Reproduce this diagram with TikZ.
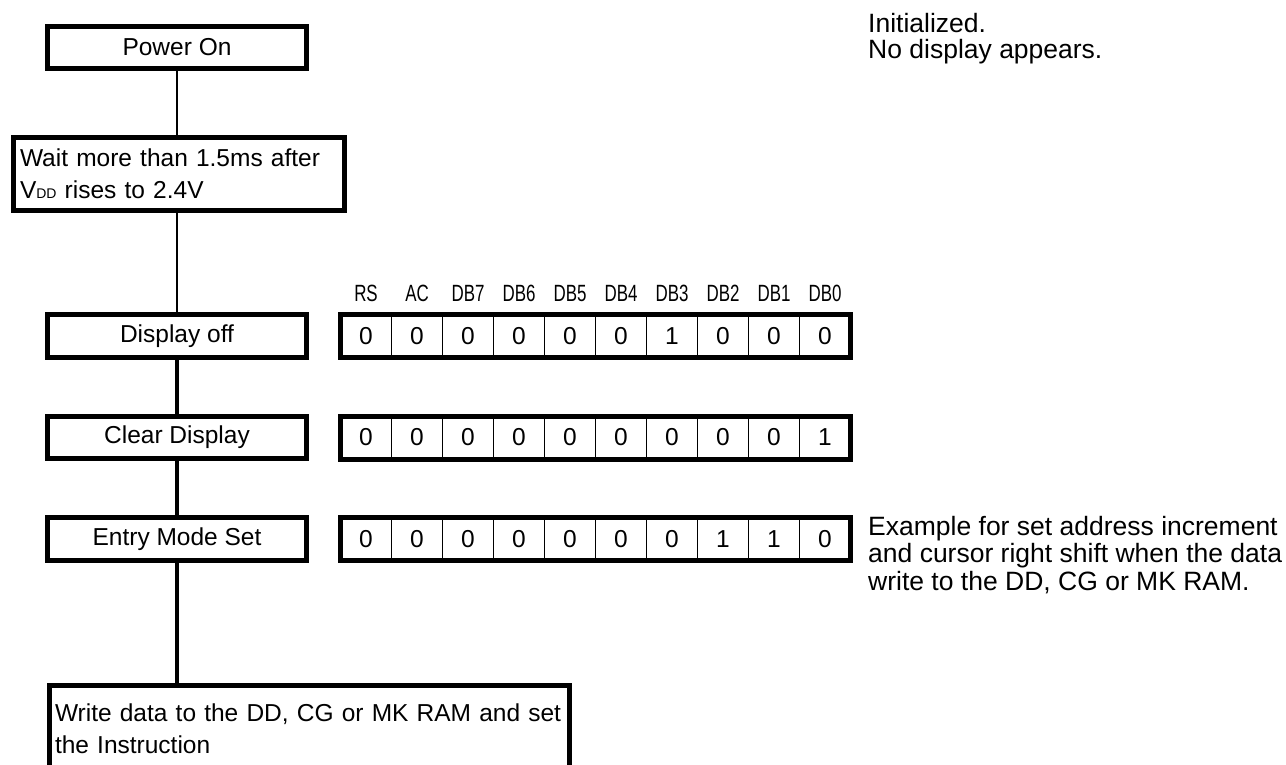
\documentclass[tikz,border=0pt]{standalone}
\usepackage{fontspec}
\setmainfont{Liberation Sans}
\newfontfamily\narrowfont[FakeStretch=0.72]{Liberation Sans}
\begin{document}
\begin{tikzpicture}[x=1pt,y=-1pt,
  box/.style={draw, line width=5pt, inner sep=0pt, font=\fontsize{24.5}{32}\selectfont},
  regbox/.style={draw, line width=5pt, minimum width=510pt, minimum height=43pt, inner sep=0pt},
  cell/.style={draw, line width=1.8pt, minimum width=51pt, minimum height=43pt, inner sep=0pt, font=\fontsize{24.5}{25}\selectfont},
  lab/.style={font=\narrowfont\fontsize{23.5}{24}\selectfont, inner sep=0pt, anchor=base},
  note/.style={font=\fontsize{26.5}{26.5}\selectfont, align=left, anchor=north west, inner sep=0pt},
  thin/.style={line width=1.5pt},
  thick/.style={line width=3.5pt}
]
\useasboundingbox (0,0) rectangle (1286,765);

% flow boxes
\node[box, minimum width=259pt, minimum height=42pt] (pwr) at (177,47.5) {Power On};
\node[box, minimum width=331pt, minimum height=73pt, text width=318pt, align=left, inner xsep=6.5pt] (wait) at (179,174)
  {Wait more than 1.5ms after\\V{\fontsize{14}{14}\selectfont DD} rises to 2.4V};
\node[box, minimum width=259pt, minimum height=43pt] (doff) at (177,336) {Display off};
\node[box, minimum width=259pt, minimum height=42pt] (clr) at (177,437.5) {Clear Display};
\node[box, minimum width=259pt, minimum height=43pt] (ems) at (177,539) {Entry Mode Set};
\node[box, minimum width=520pt, minimum height=87pt, text width=509pt, align=left, inner xsep=5.5pt] (wr) at (309.5,729)
  {Write data to the DD, CG or MK RAM and set\\the Instruction};

% connectors
\draw[thin] (pwr.south) -- (pwr.south |- wait.north);
\draw[thin] (pwr.south |- wait.south) -- (pwr.south |- doff.north);
\draw[thick] (doff) -- (clr);
\draw[thick] (clr) -- (ems);
\draw[thick] (ems.south) -- (ems.south |- wr.north);

% register labels
\foreach \t [count=\i] in {RS,AC,DB7,DB6,DB5,DB4,DB3,DB2,DB1,DB0} {
  \node[lab] (lab\i) at (340.5+51*\i-25.5,301.5) {\t};
}

% register rows
\foreach \row/\y/\bits in {1/336/{0,0,0,0,0,0,1,0,0,0}, 2/437.5/{0,0,0,0,0,0,0,0,0,1}, 3/539/{0,0,0,0,0,0,0,1,1,0}} {
  \foreach \b [count=\i] in \bits {
    \node[cell] (r\row c\i) at (340.5+51*\i-25.5,\y) {\b};
  }
  \node[regbox] (reg\row) at (595.5,\y) {};
}

% notes
\node[note] (init) at (868,13) {Initialized.\\No display appears.};
\node[note, font=\fontsize{26.5}{27.5}\selectfont] (ex) at (868,516)
  {Example for set address increment\\and cursor right shift when the data\\write to the DD, CG or MK RAM.};
\end{tikzpicture}
\end{document}
